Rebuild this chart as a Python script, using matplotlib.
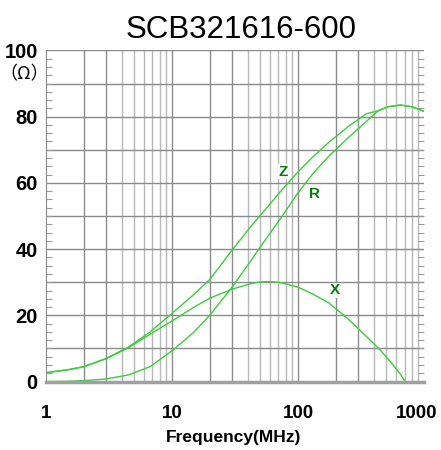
import matplotlib
matplotlib.use("Agg")
import matplotlib.pyplot as plt
import matplotlib.transforms as mtrans
from matplotlib.ticker import FixedLocator, NullFormatter

# values
freq = [1, 1.5, 2, 3, 4.5, 6.7, 10, 15, 20, 30, 41.5, 56, 75, 100, 130, 175, 250, 350, 434, 520, 650, 800, 1000]
z_vals = [2.7, 3.6, 4.5, 7.0, 10.4, 15.0, 20.6, 26.4, 30.9, 39.7, 46.5, 52.3, 58.0, 63.3, 67.7, 72.2, 77.0, 80.9, 81.8, 83.0, 83.5, 83.0, 81.6]
r_vals = [0.0, 0.1, 0.3, 0.8, 2.0, 4.5, 9.3, 15.0, 20.1, 28.5, 36.1, 43.2, 50.0, 57.0, 62.6, 68.0, 73.6, 78.6, 81.8, 83.0, 83.5, 83.0, 81.6]
x_freq = [1, 1.5, 2, 3, 4.5, 6.7, 10, 15, 20, 30, 41.5, 48, 56, 65, 75, 100, 130, 175, 250, 350, 450, 550, 650, 708]
x_vals = [2.7, 3.6, 4.5, 6.9, 10.2, 14.3, 18.3, 22.5, 25.2, 27.9, 29.5, 30.0, 30.2, 30.1, 29.8, 28.5, 26.5, 23.8, 18.9, 13.6, 9.5, 5.7, 2.2, 0.0]

curve_labels = ["Z", "R", "X"]
label_pos = [(76, 63.4), (134, 56.6), (197, 27.6)]

x_ticks = [1, 10, 100, 1000]
x_ticklabels = ["1", "10", "100", "1000"]
y_ticks = [0, 20, 40, 60, 80, 100]

title = "SCB321616-600"
xlabel = "Frequency(MHz)"
unit = "\uff08\u03a9\uff09"

bold_font = "Liberation Sans"

fig = plt.figure(figsize=(4.41, 4.5), dpi=100)
ax = fig.add_axes([0.1043, 0.152, 0.8572, 0.736])

green = "#3ccc3c"
ax.plot(freq, z_vals, color=green, lw=1.0)
ax.plot(freq, r_vals, color=green, lw=1.0)
ax.plot(x_freq, x_vals, color=green, lw=1.0)

for txt, (fx, fy) in zip(curve_labels, label_pos):
    ax.text(fx, fy, txt, color="#0a7a0a", fontsize=11, fontweight="bold",
            family=bold_font, ha="center", va="center",
            bbox=dict(facecolor="white", edgecolor="none", pad=0.3))

ax.set_xscale("log")
ax.set_xlim(1, 1000)
ax.set_ylim(0, 100)

# grid: every 1-9 per decade, every 10 on y
minor_x = [m * 10 ** d for d in range(3) for m in range(2, 10)]
ax.xaxis.set_major_locator(FixedLocator(x_ticks))
ax.xaxis.set_minor_locator(FixedLocator(minor_x))
ax.xaxis.set_minor_formatter(NullFormatter())
ax.set_xticklabels(x_ticklabels)
for xv in minor_x + [10, 100]:
    dark = str(xv)[0] in "123"
    ax.axvline(xv, color="#8c8c8c" if dark else "#b8b8b8", lw=1.0, zorder=0)
for yv in range(10, 101, 10):
    ax.axhline(yv, color="#8a8a8a", lw=1.0, zorder=0)

ax.set_yticks(y_ticks)
ax.yaxis.set_minor_locator(FixedLocator([v * 2.5 for v in range(41)]))
ax.tick_params(axis="y", which="minor", direction="in", length=4, color="#999999",
               left=True, right=True, width=0.8)
ax.tick_params(axis="y", which="major", length=0, pad=6)
ax.tick_params(axis="x", which="both", length=0, pad=17)

for lab in ax.get_xticklabels():
    lab.set_fontfamily(bold_font)
    lab.set_fontweight("bold")
    lab.set_fontsize(13.5)
for lab in ax.get_yticklabels():
    lab.set_fontfamily(bold_font)
    lab.set_fontweight("bold")
    lab.set_fontsize(14.5)
last = ax.get_xticklabels()[-1]
last.set_transform(last.get_transform() + mtrans.ScaledTranslation(-7 / 100, 0, fig.dpi_scale_trans))

ax.set_xlabel(xlabel, family=bold_font, fontweight="bold", fontsize=12.5, va="center")
ax.xaxis.set_label_coords(0.497, -0.168)
fig.text(0.054, 0.836, unit, fontsize=13, family=["Noto Sans CJK JP", "DejaVu Sans"],
         ha="center", va="center")
fig.text(0.546, 0.933, title, fontsize=22.5, family="Liberation Sans", ha="center", va="center")

for side in ["top", "right"]:
    ax.spines[side].set_visible(False)
ax.spines["left"].set_color("#8a8a8a")
ax.spines["bottom"].set_color("#a0a0a0")
ax.spines["bottom"].set_linewidth(2.5)

fig.savefig("out.png", dpi=100)
